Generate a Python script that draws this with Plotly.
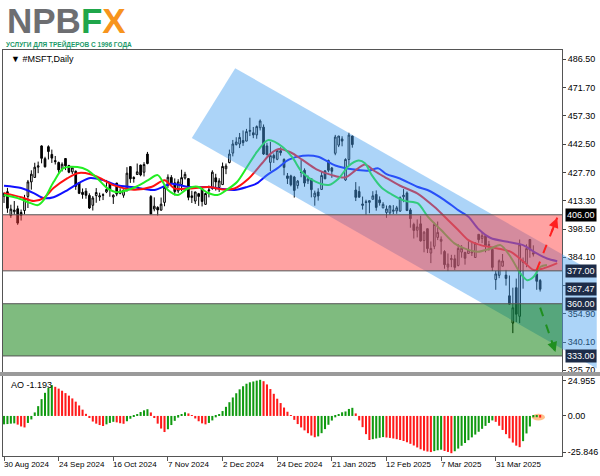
import plotly.graph_objects as go

# ---------------- data ----------------
tick_idx = [0, 16, 32, 48, 64, 80, 96, 112, 128, 144]
tick_lbl = ["30 Aug 2024", "24 Sep 2024", "16 Oct 2024", "7 Nov 2024", "2 Dec 2024",
            "24 Dec 2024", "21 Jan 2025", "12 Feb 2025", "7 Mar 2025", "31 Mar 2025"]

opens = [415.6, 417.9, 405.6, 407.6, 409.1, 407.2, 408.2, 415.5, 423.0, 425.3,
         430.6, 441.6, 435.0, 441.2, 437.2, 434.0, 433.0, 429.8, 435.1, 431.5,
         428.2, 428.5, 422.6, 417.6, 418.2, 416.0, 410.9, 415.9, 415.2, 416.1,
         417.8, 422.2, 415.2, 422.4, 417.1, 416.1, 418.5, 430.9, 425.3, 426.8,
         431.7, 428.0, 437.4, 415.4, 409.0, 409.8, 408.4, 412.4, 421.3, 425.3,
         422.5, 418.3, 421.6, 425.0, 424.7, 414.9, 413.1, 416.9, 419.5, 411.4,
         418.4, 419.6, 425.1, 420.1, 421.6, 429.8, 433.0, 437.9, 442.3, 442.6,
         444.4, 444.1, 449.1, 448.4, 447.3, 451.0, 451.3, 441.6, 433.1, 436.7,
         434.7, 439.1, 434.6, 426.1, 426.1, 425.5, 421.1, 428.0, 429.0, 423.5,
         424.6, 415.2, 417.8, 419.1, 428.7, 434.1, 430.2, 437.8, 442.0, 445.2,
         424.0, 434.6, 446.7, 418.8, 418.0, 411.6, 412.7, 412.4, 414.0, 416.5,
         413.7, 409.6, 407.2, 407.0, 407.8, 408.0, 407.9, 415.3, 417.3, 408.5,
         401.0, 398.0, 401.3, 392.7, 398.8, 386.2, 389.7, 394.3, 392.3, 387.0,
         379.0, 382.8, 383.2, 379.8, 386.7, 386.5, 386.0, 386.3, 383.9, 395.9,
         393.7, 395.2, 390.1, 388.1, 372.5, 374.7, 379.4, 374.8, 364.1, 350.0,
         368.3, 353.5, 382.1, 380.6, 393.2, 386.3, 375.3, 372.0]
highs = [417.5, 419.9, 411.2, 413.1, 410.7, 408.7, 416.3, 424.0, 429.0, 432.9,
         433.5, 441.9, 436.0, 441.9, 439.7, 436.4, 433.5, 433.1, 435.3, 431.8,
         430.4, 428.9, 422.8, 419.6, 419.8, 417.1, 415.7, 419.8, 417.4, 417.1,
         424.0, 422.5, 416.6, 422.5, 419.7, 418.9, 430.6, 431.1, 425.9, 432.5,
         431.9, 433.2, 438.5, 416.2, 415.0, 410.4, 414.9, 420.5, 426.9, 426.5,
         424.8, 424.4, 429.3, 428.2, 424.9, 418.4, 417.9, 417.3, 419.8, 417.4,
         421.1, 429.0, 427.2, 424.9, 433.0, 432.5, 439.7, 444.7, 446.1, 448.3,
         449.6, 450.4, 456.2, 451.4, 452.2, 455.3, 452.7, 443.2, 443.7, 437.7,
         439.6, 440.9, 435.2, 427.6, 426.7, 426.1, 424.0, 434.3, 430.0, 426.3,
         424.7, 418.5, 419.7, 428.2, 429.0, 434.5, 430.7, 447.3, 446.8, 446.6,
         435.2, 448.4, 446.9, 422.9, 420.7, 415.4, 413.8, 413.4, 418.2, 418.6,
         415.5, 412.5, 410.8, 411.0, 411.0, 410.6, 415.5, 419.3, 418.1, 409.4,
         401.9, 403.6, 405.5, 397.6, 398.8, 392.2, 402.0, 402.5, 394.8, 387.7,
         386.0, 385.3, 385.3, 390.8, 390.3, 386.9, 392.3, 391.8, 391.8, 395.9,
         397.0, 395.3, 392.5, 389.1, 377.0, 382.9, 385.7, 377.5, 374.6, 368.3,
         373.0, 393.2, 383.9, 390.7, 393.3, 390.2, 377.4, 372.8]
lows = [412.1, 407.0, 404.4, 406.1, 400.8, 403.0, 406.2, 409.5, 419.0, 425.2,
        427.5, 432.6, 430.4, 434.6, 432.8, 432.0, 427.4, 428.4, 429.1, 427.5,
        427.1, 418.9, 416.7, 414.3, 414.3, 409.0, 408.2, 412.2, 413.2, 413.6,
        417.2, 415.3, 411.6, 415.6, 416.6, 414.8, 418.0, 422.5, 422.6, 426.6,
        425.9, 425.8, 432.1, 406.3, 407.8, 405.6, 408.1, 410.4, 419.9, 421.8,
        416.0, 417.2, 418.2, 424.2, 413.5, 412.1, 411.6, 410.6, 410.3, 411.1,
        415.0, 418.9, 418.5, 417.8, 421.6, 427.0, 432.6, 436.2, 441.8, 440.5,
        441.6, 444.0, 446.7, 445.6, 445.3, 449.6, 436.9, 436.9, 428.6, 432.8,
        434.2, 436.6, 426.4, 421.9, 420.7, 414.9, 419.5, 425.4, 420.5, 421.9,
        415.0, 410.7, 413.3, 418.8, 424.4, 428.0, 425.1, 436.8, 441.0, 441.4,
        423.5, 431.4, 440.7, 413.1, 414.9, 408.7, 406.0, 406.8, 414.0, 408.1,
        410.7, 409.3, 404.4, 406.0, 406.4, 406.5, 407.5, 412.5, 407.9, 399.3,
        393.7, 394.3, 392.1, 386.6, 386.2, 381.0, 388.2, 392.9, 385.5, 378.1,
        376.9, 378.9, 377.5, 379.3, 383.8, 380.2, 385.8, 384.7, 383.8, 391.5,
        391.3, 386.6, 387.4, 376.9, 367.2, 373.2, 379.2, 369.4, 359.5, 344.8,
        350.5, 350.0, 367.8, 378.9, 383.8, 384.4, 367.2, 366.3]
closes = [417.1, 409.4, 408.9, 408.4, 401.7, 405.7, 414.2, 423.0, 427.0, 430.6,
          431.3, 435.2, 430.8, 438.7, 435.3, 433.5, 429.2, 432.1, 431.3, 428.0,
          430.3, 420.7, 417.1, 416.5, 416.1, 409.5, 414.7, 417.5, 415.8, 416.3,
          419.1, 418.7, 416.1, 416.7, 418.2, 418.8, 427.5, 424.6, 424.7, 428.2,
          426.6, 432.0, 432.5, 406.4, 410.4, 408.5, 411.5, 420.2, 425.4, 422.5,
          418.0, 423.0, 425.2, 426.9, 415.0, 415.8, 417.8, 415.5, 412.9, 417.0,
          418.8, 428.0, 423.0, 423.5, 431.0, 431.2, 437.4, 442.6, 443.6, 446.0,
          443.3, 449.0, 449.6, 447.3, 451.6, 454.5, 437.4, 437.0, 436.6, 435.3,
          439.3, 438.1, 430.5, 424.8, 421.5, 418.6, 423.4, 427.9, 422.4, 424.6,
          419.0, 417.2, 415.7, 426.3, 424.6, 429.0, 428.5, 446.2, 446.7, 444.1,
          434.6, 447.2, 442.3, 415.0, 415.1, 410.9, 412.4, 413.3, 415.8, 409.8,
          412.2, 411.4, 409.0, 410.5, 408.4, 409.6, 414.8, 416.1, 408.2, 404.0,
          397.9, 399.7, 392.5, 397.0, 388.5, 388.6, 401.0, 396.9, 393.3, 380.2,
          380.5, 383.3, 378.8, 388.6, 388.7, 383.5, 387.8, 386.8, 391.3, 393.1,
          395.2, 390.0, 390.6, 378.8, 375.4, 382.2, 382.1, 373.1, 359.8, 357.9,
          354.6, 390.5, 381.4, 388.5, 387.8, 385.7, 371.6, 367.5]

ao = [-6.0, -5.8, -5.5, -5.3, -6.2, -7.5, -8.2, -5.0, -2.5, 2.5,
      7.0, 12.0, 16.5, 20.0, 22.0, 20.8, 19.5, 18.0, 16.3, 14.5,
      12.5, 10.2, 7.5, 4.5, 1.5, -1.5, -4.0, -5.5, -6.5, -7.2,
      -6.0, -5.0, -4.2, -4.6, -5.2, -5.6, -3.8, -2.0, -0.5, 1.2,
      2.8, 4.0, 4.8, 2.5, -1.5, -5.5, -9.0, -11.5, -9.5, -6.5,
      -3.5, -1.2, 1.0, 2.6, 1.8, 0.3, -1.8, -3.8, -5.3, -6.0,
      -5.0, -3.2, -1.0, 1.2, 3.5, 6.5, 9.8, 13.2, 16.2, 19.0,
      21.2, 23.0, 24.0, 24.6, 25.2, 25.8, 24.8, 22.5, 19.2, 15.8,
      12.3, 9.2, 6.0, 3.0, 0.2, -2.8, -5.8, -8.2, -10.3, -12.3,
      -14.0, -15.2, -14.6, -12.3, -9.4, -6.3, -3.3, -1.0, 0.8, 2.6,
      3.2, 5.0, 5.8, 1.8, -3.2, -8.0, -13.0, -17.2, -16.6, -16.1,
      -15.6, -15.1, -15.4, -15.7, -16.1, -16.6, -17.2, -17.9, -18.8, -19.9,
      -21.1, -22.5, -23.8, -24.8, -25.4, -25.8, -25.1, -24.5, -24.1, -25.0,
      -25.7, -26.6, -25.2, -23.3, -21.3, -19.3, -17.3, -15.3, -13.3, -11.3,
      -9.2, -7.1, -5.0, -3.2, -4.2, -7.0, -10.0, -13.0, -16.0, -19.0,
      -21.2, -22.3, -18.0, -12.5, -7.5, -1.0, -0.9, -1.193]

jaw_x = [0, 5, 8.7, 11.6, 14.5, 18.6, 22.4, 25.3, 29, 33, 38, 44, 49, 54, 60, 64, 67.5,
         71, 74, 77, 80, 83.4, 87.5, 92, 97, 102, 106.7, 109.6, 112, 115.5, 121, 124,
         129, 133, 136, 139, 142.5, 147.5, 152, 156, 159, 162]
jaw_y = [421.0, 419.8, 417.2, 414.6, 415.1, 418.8, 422.9, 425.0, 423.9, 421.3, 420.2,
         418.8, 422.0, 420.3, 420.3, 419.3, 418.8, 420.3, 422.2, 426.5, 430.0, 434.5,
         436.5, 436.0, 431.5, 429.5, 428.8, 430.0, 427.0, 425.0, 420.5, 418.8, 413.6,
         408.4, 405.0, 398.5, 394.0, 392.0, 390.3, 386.0, 383.4, 382.0]
teeth_x = [0, 5, 8.7, 11.6, 14.5, 18.6, 21.5, 25.3, 28.2, 32, 38, 43.3, 47, 50, 54, 60,
           64, 67.5, 71.5, 75.5, 78, 80.5, 84, 87.3, 91.5, 96, 99.9, 103, 105.7, 108.6,
           111.5, 116, 121, 126, 130, 133, 136, 139.6, 144.5, 148.3, 152.2, 155.1, 158, 162]
teeth_y = [417.2, 415.1, 413.1, 414.6, 419.8, 424.9, 427.5, 427.0, 424.9, 421.3, 419.0,
           420.5, 423.9, 419.5, 419.6, 420.3, 419.1, 419.6, 424.5, 432.5, 437.5, 440.0,
           438.2, 434.5, 429.5, 426.5, 425.3, 429.1, 432.0, 428.5, 425.5, 421.0, 417.1,
           410.1, 403.3, 398.1, 392.9, 390.3, 388.6, 386.9, 381.7, 377.4, 378.3, 381.0]
lips_x = [0, 4, 7.8, 9.9, 11.6, 14.5, 17.4, 21.5, 24.4, 27.3, 30.2, 33, 38, 42.2, 45, 48,
          50.9, 53.8, 56.7, 59.6, 62.5, 65.4, 68.3, 71.2, 74.1, 77.3, 81.5, 84.5, 87.3,
          91.2, 95.1, 98, 100.9, 103.8, 105.7, 107.7, 110.6, 113.5, 117.4, 121.2, 124.1,
          128, 131.9, 134.8, 138.7, 142.5, 145.4, 148.3, 151.2, 153.2, 155.1, 157.1, 159]
lips_y = [416.2, 414.6, 412.0, 411.0, 413.6, 422.9, 430.1, 430.7, 429.1, 424.9, 419.8,
          417.7, 420.0, 423.9, 426.5, 418.8, 416.2, 419.6, 420.5, 417.4, 416.2, 419.1,
          423.1, 430.8, 438.6, 444.6, 441.2, 435.5, 428.0, 423.1, 421.4, 424.8, 431.2,
          434.0, 432.6, 426.5, 420.0, 416.6, 413.2, 411.9, 405.0, 398.1, 391.2, 388.6,
          386.9, 388.6, 390.3, 384.3, 375.7, 372.2, 374.0, 379.1, 380.0]

resist_zone = [377.0, 406.0]
support_zone = [333.0, 360.0]
last_price = 367.47
price_ticks = [486.50, 471.70, 457.30, 442.50, 427.70, 413.30, 398.50, 384.10, 369.30,
               354.90, 340.10, 325.70]
ao_ticks = [24.955, 0.0, -25.846]

# ---------------- layout geometry ----------------
W, H = 600, 476
ML, MR, MT, MB = 2, 35, 50, 20
X_RANGE = [-0.3, 163.4]
Y_RANGE = [324.7, 491.2]
AO_RANGE = [-28.6, 28.5]
MAIN_DOM = [0.2069, 1.0]
AO_DOM = [0.0, 0.197]


def px(i):
    return (i - X_RANGE[0]) / (X_RANGE[1] - X_RANGE[0])


def py(p):
    return MAIN_DOM[0] + (p - Y_RANGE[0]) / (Y_RANGE[1] - Y_RANGE[0]) * (MAIN_DOM[1] - MAIN_DOM[0])


fig = go.Figure()

fig.add_trace(go.Candlestick(
    x=list(range(len(closes))), open=opens, high=highs, low=lows, close=closes,
    increasing=dict(line=dict(color="#000000", width=1), fillcolor="#ffffff"),
    decreasing=dict(line=dict(color="#000000", width=1), fillcolor="#000000"),
    whiskerwidth=0, xaxis="x", yaxis="y", showlegend=False, hoverinfo="skip"))

for xs, ys, col in [(jaw_x, jaw_y, "#1010ff"), (teeth_x, teeth_y, "#ff1010"),
                    (lips_x, lips_y, "#22ee22")]:
    fig.add_trace(go.Scatter(x=xs, y=ys, mode="lines", xaxis="x", yaxis="y",
                             line=dict(color=col, width=2, shape="spline", smoothing=0.8),
                             showlegend=False, hoverinfo="skip"))

ao_colors = []
for i, v in enumerate(ao):
    if i == 0 or v > ao[i - 1]:
        ao_colors.append("#119a11")
    else:
        ao_colors.append("#ff1a1a")
fig.add_trace(go.Bar(x=list(range(len(ao))), y=ao, marker=dict(color=ao_colors, line=dict(width=0)),
                     xaxis="x2", yaxis="y2", showlegend=False, hoverinfo="skip"))

shapes = []
# blue channel (defined in data units, converted to paper, clipped to panel)
CH_A = (55.0, 445.7)   # lower-left corner
CH_B = (67.7, 481.8)   # upper-left corner
CH_SLOPE = -1.005      # price per bar
x_edge = X_RANGE[0] + (600 - ML) / (W - ML - MR) * (X_RANGE[1] - X_RANGE[0])
top_at_edge = CH_B[1] + CH_SLOPE * (x_edge - CH_B[0])
bot_at_edge = CH_A[1] + CH_SLOPE * (x_edge - CH_A[0])
pts = [CH_A, CH_B, (x_edge, top_at_edge)]
if bot_at_edge < Y_RANGE[0]:
    pts.append((x_edge, Y_RANGE[0]))
    xb = CH_A[0] + (Y_RANGE[0] - CH_A[1]) / CH_SLOPE
    pts.append((xb, Y_RANGE[0]))
else:
    pts.append((x_edge, bot_at_edge))
path = "M " + " L ".join(f"{px(a):.5f},{py(b):.5f}" for a, b in pts) + " Z"
shapes.append(dict(type="path", path=path, xref="paper", yref="paper",
                   fillcolor="rgba(70,160,240,0.45)", line=dict(width=0), layer="above"))

# zones
shapes.append(dict(type="rect", xref="x", yref="y", x0=X_RANGE[0], x1=X_RANGE[1],
                   y0=resist_zone[0], y1=resist_zone[1], fillcolor="rgba(255,60,60,0.48)",
                   line=dict(width=0), layer="above"))
shapes.append(dict(type="rect", xref="x", yref="y", x0=X_RANGE[0], x1=X_RANGE[1],
                   y0=support_zone[0], y1=support_zone[1], fillcolor="rgba(0,120,0,0.5)",
                   line=dict(width=0), layer="above"))
for lv in resist_zone + support_zone:
    shapes.append(dict(type="line", xref="x", yref="y", x0=X_RANGE[0], x1=X_RANGE[1],
                       y0=lv, y1=lv, line=dict(color="#555555", width=1), layer="above"))

# dashed scenario arrows
ARR_UP = ((156.0, 377.5), (162.0, 404.5))
ARR_DN = ((157.0, 358.0), (161.5, 335.0))
for (a, b), col in [(ARR_UP, "#ff2020"), (ARR_DN, "#1f8f1f")]:
    shapes.append(dict(type="line", xref="x", yref="y", x0=a[0], y0=a[1], x1=b[0], y1=b[1],
                       line=dict(color=col, width=2, dash="dash"), layer="above"))

# separator between panels
shapes.append(dict(type="rect", xref="paper", yref="paper", x0=-0.01, x1=1.07,
                   y0=AO_DOM[1], y1=MAIN_DOM[0], fillcolor="#9a9a9a", line=dict(width=0)))
# AO highlight
shapes.append(dict(type="circle", xref="x2", yref="y2", x0=154.6, x1=158.4, y0=-3.2, y1=1.5,
                   fillcolor="rgba(255,150,60,0.6)", line=dict(width=0), layer="below"))

annotations = []
for (a, b), col in [(ARR_UP, "#ff2020"), (ARR_DN, "#1f8f1f")]:
    annotations.append(dict(x=b[0], y=b[1], ax=a[0] + (b[0] - a[0]) * 0.7, ay=a[1] + (b[1] - a[1]) * 0.7,
                            xref="x", yref="y", axref="x", ayref="y", text="", showarrow=True,
                            arrowhead=2, arrowsize=1, arrowwidth=2, arrowcolor=col))

for i, t in zip(tick_idx, tick_lbl):
    annotations.append(dict(x=i, y=-0.006, xref="x2", yref="paper", text=t, showarrow=False,
                            xanchor="left", yanchor="top", xshift=-2,
                            font=dict(family="Liberation Sans", size=8, color="#000")))

label_font = dict(family="Liberation Sans", size=9, color="#ffffff")
for val, bg in [(406.0, "#000000"), (resist_zone[0], "#1d2c48"), (last_price, "#1d2c48"),
                (support_zone[1], "#1d2c48"), (support_zone[0], "#1d2c48")]:
    annotations.append(dict(x=1.0, y=val, xref="paper", yref="y", text=f"{val:.2f}",
                            showarrow=False, xanchor="left", yanchor="middle", xshift=3,
                            bgcolor=bg, borderpad=1, font=label_font))

annotations.append(dict(x=0.01, y=1.0, xref="paper", yref="paper", text="▼ #MSFT,Daily",
                        showarrow=False, xanchor="left", yanchor="top", yshift=-2,
                        font=dict(family="Liberation Sans", size=9, color="#000")))
annotations.append(dict(x=0.01, y=AO_DOM[1], xref="paper", yref="paper", text="AO -1.193",
                        showarrow=False, xanchor="left", yanchor="top", yshift=-2,
                        font=dict(family="Liberation Sans", size=9, color="#000")))
# logo
annotations.append(dict(x=0, y=1, xref="paper", yref="paper", xanchor="left", yanchor="middle",
                        yshift=30, xshift=3, showarrow=False, borderpad=0,
                        text="<b><span style='color:#6d6e71'>NPB</span><span style='color:#1fa64a'>F</span><span style='color:#f7941d'>X</span></b>",
                        font=dict(family="Liberation Sans", size=35)))
annotations.append(dict(x=0, y=1, xref="paper", yref="paper", xanchor="left", yanchor="bottom",
                        yshift=0, xshift=2, showarrow=False, borderpad=0,
                        text="<b>УСЛУГИ ДЛЯ ТРЕЙДЕРОВ С 1996 ГОДА</b>",
                        font=dict(family="Liberation Sans", size=6.5, color="#1b9a6a")))

axis_common = dict(showgrid=False, zeroline=False, showline=True, linecolor="#555555",
                   linewidth=1, mirror=True)
fig.update_layout(
    width=W, height=H, margin=dict(l=ML, r=MR, t=MT, b=MB),
    paper_bgcolor="#ffffff", plot_bgcolor="#ffffff", bargap=0.4,
    xaxis=dict(range=X_RANGE, domain=[0, 1], anchor="y", showticklabels=False, ticks="",
               rangeslider=dict(visible=False), **axis_common),
    xaxis2=dict(range=X_RANGE, domain=[0, 1], anchor="y2", showticklabels=False,
                ticks="outside", ticklen=4, tickcolor="#555555", tickvals=tick_idx, **axis_common),
    yaxis=dict(range=Y_RANGE, domain=MAIN_DOM, side="right", tickvals=price_ticks,
               ticktext=[f"{v:.2f}" for v in price_ticks], ticks="outside", ticklen=3,
               tickfont=dict(family="Liberation Sans", size=9, color="#000"), **axis_common),
    yaxis2=dict(range=AO_RANGE, domain=AO_DOM, side="right", anchor="x2", tickvals=ao_ticks,
                ticktext=["24.955", "0.00", "-25.846"], ticks="outside", ticklen=3,
                tickfont=dict(family="Liberation Sans", size=9, color="#000"), **axis_common),
    shapes=shapes, annotations=annotations,
)

fig.write_html("out.html", config={"displayModeBar": False},
               post_script="document.body.style.margin='0';")
